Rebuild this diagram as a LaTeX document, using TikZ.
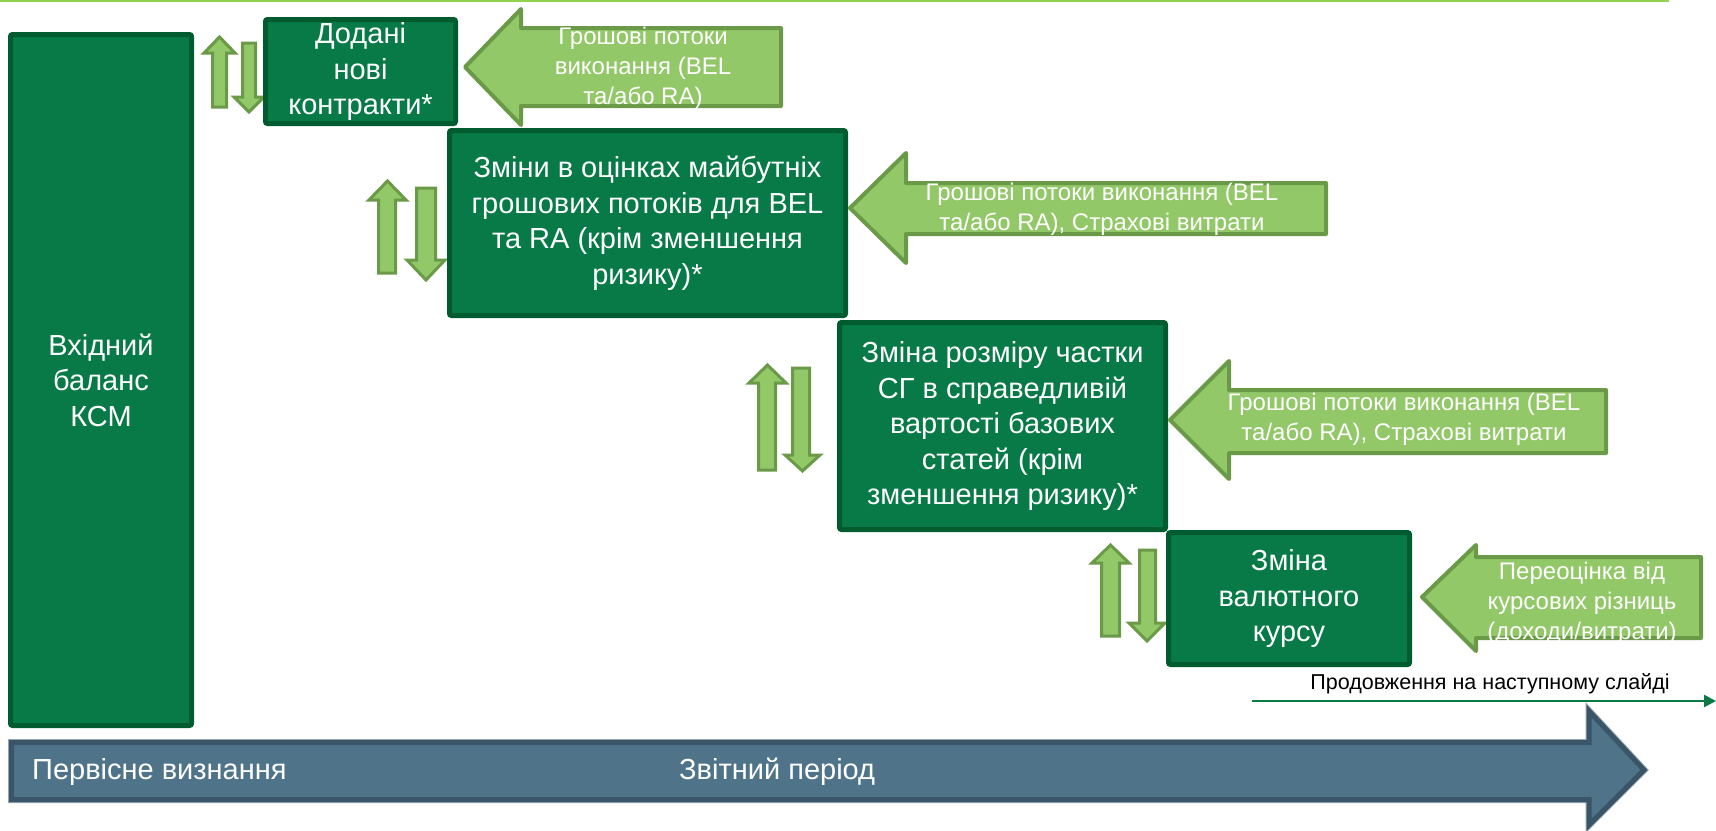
\documentclass[tikz,border=0pt]{standalone}
\usepackage{fontspec}
\setmainfont{Liberation Sans}
\usetikzlibrary{arrows.meta}

\definecolor{boxfill}{HTML}{077A47}
\definecolor{boxline}{HTML}{005C2E}
\definecolor{lgfill}{HTML}{92C867}
\definecolor{lgline}{HTML}{6A9A48}
\definecolor{blfill}{HTML}{4F7489}
\definecolor{blline}{HTML}{3A5568}
\definecolor{blhalo}{HTML}{93A6B3}
\definecolor{topline}{HTML}{92D050}
\definecolor{contline}{HTML}{0B7A45}

\tikzset{
  stagebox/.style={draw=boxline, fill=boxfill, line width=5pt, rounded corners=2pt,
    text=white, align=center, inner sep=0pt, font=\fontsize{29}{35.5}\selectfont},
  flowarrow/.style={draw=lgline, fill=lgfill, line width=4pt, line join=round},
  flowtext/.style={text=white, align=center, inner sep=0pt, font=\fontsize{24}{30}\selectfont},
  updown/.style={draw=lgline, fill=lgfill, line width=3pt, line join=miter},
  timeline/.style={draw=blline, fill=blfill, line width=5pt, line join=miter},
  timetext/.style={text=white, anchor=west, inner sep=0pt, font=\fontsize{29}{34}\selectfont},
}

\begin{document}
\begin{tikzpicture}[x=1pt, y=-1pt]
\useasboundingbox (0,0) rectangle (1716,830);

% thin line along the top edge
\coordinate (topA) at (0,1.2);
\coordinate (topB) at (1669,1.2);
\draw[topline, line width=2.4pt] (topA) -- (topB);

% up/down pairs beside each stage
\draw[updown] (219.5,37) -- (235,53) -- (226.5,53) -- (226.5,107) -- (212.5,107) -- (212.5,53) -- (204,53) -- cycle;
\draw[updown] (249,112) -- (264,97) -- (255.5,97) -- (255.5,43) -- (242.5,43) -- (242.5,97) -- (234,97) -- cycle;

\draw[updown] (387.5,181) -- (406,200) -- (395.5,200) -- (395.5,273) -- (378.5,273) -- (378.5,200) -- (369,200) -- cycle;
\draw[updown] (426,280) -- (445,260) -- (435.5,260) -- (435.5,188) -- (416.5,188) -- (416.5,260) -- (407,260) -- cycle;

\draw[updown] (767.5,365) -- (786,383) -- (775.5,383) -- (775.5,470) -- (758.5,470) -- (758.5,383) -- (749,383) -- cycle;
\draw[updown] (802.5,471) -- (820,455) -- (809.5,455) -- (809.5,368) -- (792.5,368) -- (792.5,455) -- (785,455) -- cycle;

\draw[updown] (1110.5,545) -- (1129,563) -- (1119.5,563) -- (1119.5,636) -- (1101.5,636) -- (1101.5,563) -- (1092,563) -- cycle;
\draw[updown] (1147,641) -- (1165,623) -- (1155.5,623) -- (1155.5,550) -- (1139.5,550) -- (1139.5,623) -- (1129,623) -- cycle;

% stage boxes
\node[stagebox, minimum width=181pt, minimum height=691pt] (open) at (101,380) {Вхідний\\баланс\\КСМ};
\node[stagebox, minimum width=190pt, minimum height=104pt] (newc) at (360.5,71.5) {Додані\\нові\\контракти*};
\node[stagebox, minimum width=396pt, minimum height=185pt] (est) at (647.5,223) {Зміни в оцінках майбутніх\\грошових потоків для BEL\\та RA (крім зменшення\\ризику)*};
\node[stagebox, minimum width=326pt, minimum height=207pt] (share) at (1002.5,426) {Зміна розміру частки\\СГ в справедливій\\вартості базових\\статей (крім\\зменшення ризику)*};
\node[stagebox, minimum width=241pt, minimum height=132pt] (fx) at (1289,598.5) {Зміна\\валютного\\курсу};

% block arrows feeding the stages
\draw[flowarrow] (465,67) -- (521,9) -- (521,28) -- (781,28) -- (781,106) -- (521,106) -- (521,125) -- cycle;
\node[flowtext] (cf1) at (643,68) {Грошові потоки\\виконання (BEL\\та/або RA)};

\draw[flowarrow] (850,208) -- (906,153) -- (906,183) -- (1326,183) -- (1326,234) -- (906,234) -- (906,263) -- cycle;
\node[flowtext] (cf2) at (1102,209) {Грошові потоки виконання (BEL\\та/або RA), Страхові витрати};

\draw[flowarrow] (1170,420) -- (1229,361) -- (1229,390) -- (1606,390) -- (1606,453) -- (1229,453) -- (1229,479) -- cycle;
\node[flowtext] (cf3) at (1404,419) {Грошові потоки виконання (BEL\\та/або RA), Страхові витрати};

\draw[flowarrow] (1422,597) -- (1476,545) -- (1476,557) -- (1701,557) -- (1701,638) -- (1476,638) -- (1476,651) -- cycle;
\node[flowtext] (cf4) at (1582,603) {Переоцінка від\\курсових різниць\\(доходи/витрати)};

% continuation marker
\coordinate (contA) at (1252,701);
\coordinate (contB) at (1716,701);
\draw[contline, line width=2.5pt, -{Triangle[length=12pt,width=12pt]}] (contA) -- (contB);
\node[text=black, inner sep=0pt, font=\fontsize{21.5}{25}\selectfont] (cont) at (1490,684) {Продовження на наступному слайді};

% time axis
\draw[blhalo, line width=7pt, line join=miter] (11.5,742.5) -- (1589,742.5) -- (1589,711) -- (1644,770) -- (1589,825) -- (1589,799.5) -- (11.5,799.5) -- cycle;
\draw[timeline] (11.5,742.5) -- (1589,742.5) -- (1589,711) -- (1644,770) -- (1589,825) -- (1589,799.5) -- (11.5,799.5) -- cycle;
\node[timetext] (t0) at (32,772) {Первісне визнання};
\node[timetext] (t1) at (679,772) {Звітний період};

\end{tikzpicture}
\end{document}
